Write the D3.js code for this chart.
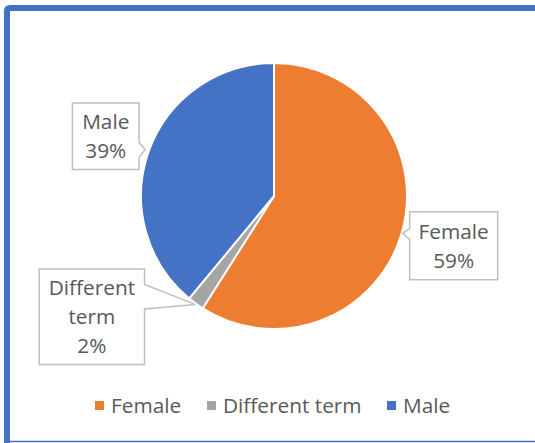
<!DOCTYPE html>
<html>
<head>
<meta charset="utf-8">
<script src="https://cdn.jsdelivr.net/npm/d3@7"></script>
<style>
  html, body { margin: 0; padding: 0; background: #fff; }
  svg { display: block; }
  text { font-family: "Open Sans", "Noto Sans", sans-serif; fill: #595959; }
</style>
</head>
<body>
<svg id="chart" width="535" height="443"></svg>
<script>
// ---- data ----
const categories = ["Female", "Different term", "Male"];
const values = [59, 2, 39];
const percentLabels = ["59%", "2%", "39%"];
const labelLines = [["Female"], ["Different", "term"], ["Male"]];
const colors = ["#ED7D31", "#A5A5A5", "#4472C4"];

// ---- layout ----
const W = 535, H = 443;
const cx = 274, cy = 196, R = 133;
const FS = 20.8;
// callout boxes relative to pointer tip: box offset (dx,dy), size, pointer base on box edge
const boxLayout = [
  { dx: 7,   dy: -21.6, w: 88,  h: 68, side: "left",  b0: -5,  b1: 6 },
  { dx: -156, dy: -35.4, w: 105.3, h: 95.4, side: "right", b0: -20, b1: 4.6 },
  { dx: -72.7, dy: -46.7, w: 66.7, h: 66.7, side: "right", b0: -7, b1: 8 }
];

const svg = d3.select("#chart");

// chart frame (selected-chart look)
svg.append("path")
  .attr("d", `M7,${H} L7,11 Q7,8 10,8 L${W},8`)
  .attr("fill", "none").attr("stroke", "#4472C4").attr("stroke-width", 6);
svg.append("line")
  .attr("x1", 9).attr("x2", W).attr("y1", 441.5).attr("y2", 441.5)
  .attr("stroke", "#4472C4").attr("stroke-width", 1.5);

const pie = d3.pie().sort(null).value(d => d)(values);
const arc = d3.arc().innerRadius(0).outerRadius(R);

const g = svg.append("g").attr("transform", `translate(${cx},${cy})`);
g.selectAll("path.slice").data(pie).join("path")
  .attr("class", "slice")
  .attr("d", arc)
  .attr("fill", (d, i) => colors[i])
  .attr("stroke", "#fff")
  .attr("stroke-width", 2)
  .attr("stroke-linejoin", "round");

// callouts
const tipR = [R + 1, R + 1, R + 4];
pie.forEach((d, i) => {
  const a = (d.startAngle + d.endAngle) / 2;
  const tx = cx + tipR[i] * Math.sin(a);
  const ty = cy - tipR[i] * Math.cos(a);
  const L = boxLayout[i];
  const x0 = tx + L.dx, y0 = ty + L.dy, x1 = x0 + L.w, y1 = y0 + L.h;
  let p;
  if (L.side === "left") {
    p = `M${x0},${y0} L${x1},${y0} L${x1},${y1} L${x0},${y1} L${x0},${ty + L.b1} L${tx},${ty} L${x0},${ty + L.b0} Z`;
  } else {
    p = `M${x0},${y0} L${x1},${y0} L${x1},${ty + L.b0} L${tx},${ty} L${x1},${ty + L.b1} L${x1},${y1} L${x0},${y1} Z`;
  }
  svg.append("path").attr("d", p)
    .attr("fill", "#fff").attr("stroke", "#BFBFBF").attr("stroke-width", 1.5)
    .attr("stroke-linejoin", "miter");
  const lines = labelLines[i].concat([percentLabels[i]]);
  const lh = 29;
  const mid = (y0 + y1) / 2;
  const first = mid - (lines.length - 1) * lh / 2 + 7.5;
  const t = svg.append("text").attr("text-anchor", "middle").attr("font-size", FS);
  lines.forEach((s, k) => {
    t.append("tspan").attr("x", (x0 + x1) / 2).attr("y", first + k * lh).text(s);
  });
});

// legend
const legendX = [95, 207, 387];
const legendY = 405.5;
const lg = svg.append("g");
categories.forEach((c, i) => {
  lg.append("rect").attr("x", legendX[i]).attr("y", legendY - 4.5)
    .attr("width", 9).attr("height", 9).attr("fill", colors[i]);
  lg.append("text").attr("x", legendX[i] + 16).attr("y", legendY + 7.5)
    .attr("font-size", FS).text(c);
});
</script>
</body>
</html>
